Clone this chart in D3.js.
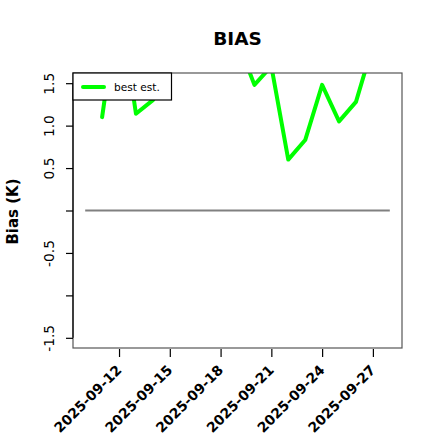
<!DOCTYPE html>
<html>
<head>
<meta charset="utf-8">
<script src="https://cdn.jsdelivr.net/npm/d3@7"></script>
<style>
  html, body { margin: 0; padding: 0; background: #fff; }
  svg { display: block; font-family: "DejaVu Sans", sans-serif; }
</style>
</head>
<body>
<svg id="chart" width="440" height="440"></svg>
<script>
// ---- data ----
const dates = ["2025-09-10","2025-09-11","2025-09-12","2025-09-13","2025-09-14","2025-09-15",
  "2025-09-16","2025-09-17","2025-09-18","2025-09-19","2025-09-20","2025-09-21","2025-09-22",
  "2025-09-23","2025-09-24","2025-09-25","2025-09-26","2025-09-27","2025-09-28"];
const bestEst = [null, 1.10, 2.50, 1.14, 1.30, 1.63, 2.00, 2.20, 2.10, 2.00, 1.48, 1.70, 0.60,
  0.83, 1.48, 1.05, 1.28, 1.95, 2.05];
const refDates = ["2025-09-10", "2025-09-28"];
const refValues = [0, 0];
const xTickDates = ["2025-09-12","2025-09-15","2025-09-18","2025-09-21","2025-09-24","2025-09-27"];
const xTickLabels = ["2025-09-12","2025-09-15","2025-09-18","2025-09-21","2025-09-24","2025-09-27"];
const yTickValues = [1.5, 1.0, 0.5, 0, -0.5, -1.0, -1.5];
const yTickLabels = ["1.5", "1.0", "0.5", "", "-0.5", "", "-1.5"];
const yLimits = [-1.5, 1.5];
const titleText = "BIAS";
const yLabelText = "Bias (K)";
const legendLabels = ["best est."];

// ---- layout ----
const parse = d3.utcParse("%Y-%m-%d");
const L = 73, R = 402, T = 73, B = 348;
const svg = d3.select("#chart");

const d0 = parse(dates[0]), d1 = parse(dates[dates.length - 1]);
const span = d1 - d0;
const x = d3.scaleUtc().domain([new Date(+d0 - 0.04 * span), new Date(+d1 + 0.04 * span)]).range([L, R]);
const yr = yLimits[1] - yLimits[0];
const y = d3.scaleLinear().domain([yLimits[0] - 0.04 * yr, yLimits[1] + 0.04 * yr]).range([B, T]);

svg.append("clipPath").attr("id", "plotclip")
  .append("rect").attr("x", L).attr("y", T).attr("width", R - L).attr("height", B - T);

// reference zero line
const refData = refDates.map((d, i) => ({ d: parse(d), v: refValues[i] }));
svg.append("path")
  .datum(refData)
  .attr("fill", "none").attr("stroke", "#808080").attr("stroke-width", 2)
  .attr("d", d3.line().x(p => x(p.d)).y(p => y(p.v)));

// best estimate line
const lineData = dates.map((d, i) => ({ d: parse(d), v: bestEst[i] }));
svg.append("path")
  .datum(lineData)
  .attr("clip-path", "url(#plotclip)")
  .attr("fill", "none").attr("stroke", "#00ff00").attr("stroke-width", 4)
  .attr("stroke-linejoin", "round").attr("stroke-linecap", "round")
  .attr("d", d3.line().defined(p => p.v !== null).x(p => x(p.d)).y(p => y(p.v)));

// box
svg.append("rect").attr("x", L).attr("y", T).attr("width", R - L).attr("height", B - T)
  .attr("fill", "none").attr("stroke", "#555").attr("stroke-width", 1.2);

// y axis
const yAxis = d3.axisLeft(y).tickValues(yTickValues).tickSize(7)
  .tickFormat((d, i) => yTickLabels[i]);
const gy = svg.append("g").attr("transform", `translate(${L},0)`).call(yAxis);
gy.select(".domain").attr("d", `M0,${y(yTickValues[0])}V${y(yTickValues[yTickValues.length - 1])}`)
  .attr("stroke", "#000").attr("stroke-width", 1.2);
gy.selectAll(".tick line").attr("stroke", "#000").attr("stroke-width", 1.2);
gy.selectAll(".tick text")
  .attr("font-family", "DejaVu Sans").attr("font-size", 13.8).attr("fill", "#000")
  .attr("text-anchor", "middle").attr("dy", null).attr("x", null)
  .attr("transform", "translate(-19.5,0) rotate(-90)");

// x axis
const xAxis = d3.axisBottom(x).tickValues(xTickDates.map(parse)).tickSize(8)
  .tickFormat((d, i) => xTickLabels[i]);
const gx = svg.append("g").attr("transform", `translate(0,${B + 1})`).call(xAxis);
gx.select(".domain").remove();
gx.selectAll(".tick line").attr("stroke", "#000").attr("stroke-width", 1.2);
gx.selectAll(".tick text")
  .attr("font-family", "DejaVu Sans").attr("font-weight", "bold").attr("font-size", 13.8)
  .attr("fill", "#000").attr("text-anchor", "end").attr("dy", null).attr("y", null)
  .attr("transform", "translate(3,22) rotate(-45)");

// title
svg.append("text").attr("x", (L + R) / 2).attr("y", 45)
  .attr("text-anchor", "middle").attr("font-weight", "bold").attr("font-size", 18.5)
  .text(titleText);

// y label
svg.append("text").attr("transform", `translate(17.5,${(T + B) / 2 + 1}) rotate(-90)`)
  .attr("text-anchor", "middle").attr("font-weight", "bold").attr("font-size", 15)
  .text(yLabelText);

// legend
const lg = svg.append("g");
lg.append("rect").attr("x", L).attr("y", T).attr("width", 98.5).attr("height", 27)
  .attr("fill", "#fff").attr("stroke", "#000").attr("stroke-width", 1.2);
lg.append("line").attr("x1", L + 10).attr("x2", L + 31).attr("y1", T + 14).attr("y2", T + 14)
  .attr("stroke", "#00ff00").attr("stroke-width", 4).attr("stroke-linecap", "round");
lg.append("text").attr("x", L + 41).attr("y", T + 18)
  .attr("font-size", 10.6).attr("fill", "#000").text(legendLabels[0]);
</script>
</body>
</html>
